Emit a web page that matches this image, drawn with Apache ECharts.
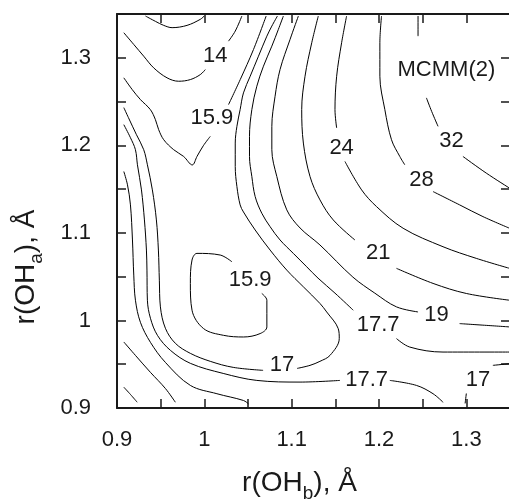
<!DOCTYPE html>
<html><head><meta charset="utf-8">
<script src="https://cdn.jsdelivr.net/npm/echarts@6/dist/echarts.min.js"></script>
<style>html,body{margin:0;padding:0;background:#fff}#c{width:509px;height:499px}</style>
</head><body><div id="c"></div>
<script>
const xTickLabels = [0.9, 1, 1.1, 1.2, 1.3];
const yTickLabels = [0.9, 1, 1.1, 1.2, 1.3];

// contour segments (data units), one array of segments per level
const c12 = [
  [[0.9326,1.3477],[0.944,1.3416],[0.9535,1.337],[0.9631,1.3344],[0.9802,1.337],[0.9954,1.3439],[0.9999,1.3477]]
];
const c14 = [
  [[0.9078,1.3286],[0.9192,1.3152],[0.9306,1.3018],[0.942,1.2885],[0.9573,1.2771],[0.9706,1.2732],[0.984,1.2751],[0.9954,1.2808],[1.0011,1.2865]],
  [[1.0277,1.319],[1.0354,1.3305],[1.043,1.3477]]
];
const c15_9 = [
  [[0.9078,1.2771],[0.9174,1.2637],[0.9268,1.2523],[0.9382,1.2408],[0.944,1.2293],[0.9477,1.2179],[0.9535,1.2064],[0.9649,1.195],[0.9763,1.1873],[0.9862,1.1776],[0.9916,1.1873],[0.9988,1.1995],[1.0068,1.2102]],
  [[1.0277,1.2465],[1.0411,1.2751],[1.0563,1.3095],[1.0708,1.3477]],
  [[1.0316,1.067],[1.0182,1.0747],[0.9916,1.0766],[0.9859,1.069],[0.984,1.0423],[0.9859,1.0117],[0.9991,0.9907],[1.022,0.983],[1.0448,0.9811],[1.0639,0.985],[1.0716,0.9926],[1.0716,1.0231],[1.0658,1.0308]]
];
const c17 = [
  [[1.0837,1.3477],[1.0773,1.3362],[1.0716,1.3247],[1.062,1.3018],[1.0525,1.2789],[1.0448,1.2599],[1.041,1.2408],[1.0373,1.2217],[1.0354,1.2026],[1.0354,1.1758],[1.0373,1.1529],[1.041,1.132],[1.0448,1.1239],[1.0582,1.1033],[1.0753,1.0804],[1.0944,1.0575],[1.1134,1.0384],[1.1324,1.0194],[1.1401,1.0097],[1.1533,0.9907],[1.1545,0.9793],[1.1439,0.9601],[1.1324,0.9533],[1.121,0.9487],[1.1062,0.9452]],
  [[1.0673,0.943],[1.0331,0.9464],[1.0068,0.9533],[0.984,0.9624],[0.9668,0.9739],[0.9554,0.9911],[0.9497,1.0155],[0.9485,1.046],[0.9474,1.0804],[0.9451,1.1148],[0.9405,1.1491],[0.9348,1.1778],[0.9306,1.195],[0.9223,1.2121],[0.9131,1.2316],[0.9078,1.2431]],
  [[1.2986,0.9052],[1.3,0.9166]],
  [[1.3304,0.9487],[1.3495,0.9506]]
];
const c17_7 = [
  [[1.0905,1.3477],[1.0848,1.3325],[1.0773,1.3133],[1.0677,1.2904],[1.0601,1.2675],[1.0544,1.2408],[1.0517,1.2102],[1.0517,1.1873],[1.0544,1.1644],[1.0582,1.1415],[1.0658,1.1224],[1.0753,1.1071],[1.0867,1.0919],[1.1019,1.0766],[1.1172,1.0613],[1.1302,1.0483],[1.1496,1.0312],[1.1705,1.0117]],
  [[1.22,0.9793],[1.2352,0.9696],[1.2733,0.9639],[1.3495,0.9639]],
  [[0.9078,1.2236],[0.9154,1.2087],[0.9211,1.195],[0.9234,1.1778],[0.928,1.1491],[0.9314,1.1148],[0.9337,1.0804],[0.9343,1.0575],[0.9348,1.0231],[0.9383,1.0025],[0.9463,0.983],[0.9611,0.9659],[0.984,0.951],[1.0216,0.9395],[1.0601,0.9315],[1.1096,0.9296],[1.1553,0.9315]],
  [[1.2124,0.9315],[1.2429,0.9258],[1.2619,0.9163],[1.2733,0.9066]]
];
const c19 = [
  [[1.1077,1.3477],[1.0982,1.3211],[1.0867,1.2866],[1.081,1.256],[1.0773,1.2217],[1.0773,1.195],[1.083,1.1644],[1.0944,1.1263],[1.1096,1.1056],[1.1324,1.0862],[1.1701,1.0495],[1.1952,1.0312],[1.22,1.0155],[1.2447,1.0097]],
  [[1.2923,0.9964],[1.3209,0.9945],[1.3495,0.9926]],
  [[0.9078,1.1701],[0.912,1.1549],[0.9154,1.132],[0.9177,1.0919],[0.9192,1.0518],[0.9211,1.0231],[0.9268,0.9979],[0.9383,0.975],[0.9554,0.9521],[0.984,0.9258],[1.0144,0.9163],[1.0448,0.9086],[1.0505,0.9048]]
];
const c21 = [
  [[1.1305,1.3477],[1.123,1.3172],[1.1153,1.2789],[1.1115,1.2408],[1.1134,1.2026],[1.121,1.1644],[1.1324,1.1377],[1.1476,1.1148],[1.1724,1.0919]],
  [[1.22,1.0595],[1.2619,1.0423],[1.3,1.0308],[1.3495,1.0231]],
  [[0.9078,0.9754],[0.9211,0.9601],[0.9383,0.9407],[0.9554,0.9223],[0.9668,0.9066]]
];
const c24 = [
  [[1.1629,1.3477],[1.1572,1.3172],[1.1515,1.2789],[1.1496,1.2408],[1.1515,1.2198]],
  [[1.161,1.1816],[1.1801,1.1491],[1.1972,1.13],[1.2276,1.1053],[1.2733,1.0842],[1.3114,1.0709],[1.3495,1.0595]],
  [[0.9078,0.9238],[0.9154,0.9155],[0.9231,0.9066]]
];
const c28 = [
  [[1.2029,1.3477],[1.201,1.3172],[1.201,1.2789],[1.2067,1.2408],[1.2143,1.2064],[1.2238,1.1873],[1.2295,1.1778]],
  [[1.2619,1.1472],[1.2923,1.132],[1.319,1.1186],[1.3495,1.1053]]
];
const c32 = [
  [[1.2447,1.3477],[1.2447,1.3247]],
  [[1.2543,1.2542],[1.2604,1.2385],[1.2676,1.2217]],
  [[1.2961,1.1873],[1.3228,1.1683],[1.3495,1.1511]]
];

const labelTexts = ['14','15.9','15.9','17','17','17.7','17.7','19','21','24','28','32','MCMM(2)'];
const labelX = [1.0125,1.0087,1.0525,1.089,1.3133,1.199,1.1858,1.2657,1.199,1.1572,1.2486,1.2829,1.2772];
const labelY = [1.3018,1.2313,1.046,0.9487,0.9315,0.9945,0.9315,1.006,1.0766,1.1969,1.1606,1.2045,1.2866];

const FONT = 'Liberation Sans, Arial, sans-serif';
const INK = '#1a1a1a';

function tickFmt(list) {
  return function (v) {
    const r = Math.round(v * 100) / 100;
    return list.some(t => Math.abs(t - r) < 1e-6) ? String(r) : '';
  };
}

const series = [];
[c12, c14, c15_9, c17, c17_7, c19, c21, c24, c28, c32].forEach(level => {
  level.forEach(seg => {
    series.push({
      type: 'line', data: seg, showSymbol: false, symbol: 'none', smooth: 0.35,
      lineStyle: { color: '#000', width: 1 }, silent: true, z: 2
    });
  });
});
series.push({
  type: 'scatter', symbol: 'circle', symbolSize: 2, silent: true, z: 5,
  itemStyle: { color: 'rgba(255,255,255,0)' },
  data: labelTexts.map((t, i) => ({ name: t, value: [labelX[i], labelY[i]] })),
  label: { show: true, position: 'inside', formatter: '{b}', fontSize: 22, fontFamily: FONT, color: INK, opacity: 1 },
  labelLayout: { hideOverlap: false }
});

const axisCommon = {
  type: 'value', interval: 0.05,
  axisLine: { show: true, onZero: false, lineStyle: { color: INK, width: 2 } },
  axisTick: { show: true, inside: true, length: 9, lineStyle: { color: INK, width: 1.5 } },
  splitLine: { show: false }
};

const option = {
  animation: false,
  backgroundColor: '#fff',
  grid: { left: 117, right: -1, top: 14, bottom: 91, containLabel: false, outerBoundsMode: 'none' },
  xAxis: [
    Object.assign({}, axisCommon, {
      position: 'bottom', min: 0.9, max: 1.35,
      axisLabel: { formatter: tickFmt(xTickLabels), fontSize: 22, margin: 21, color: INK, fontFamily: FONT },
      name: '{a|r(OH}{s|b}{a|), Å}', nameLocation: 'middle', nameGap: 55,
      nameTextStyle: {
        padding: [0, 28, 0, 0],
        rich: {
          a: { fontSize: 28, fontFamily: FONT, color: INK, lineHeight: 40, verticalAlign: 'middle' },
          s: { fontSize: 19, fontFamily: FONT, color: INK, lineHeight: 18, verticalAlign: 'bottom' }
        }
      }
    }),
    Object.assign({}, axisCommon, {
      position: 'top', min: 0.9, max: 1.35, axisLabel: { show: false }
    })
  ],
  yAxis: [
    Object.assign({}, axisCommon, {
      position: 'left', min: 0.9, max: 1.35,
      axisLabel: { formatter: tickFmt(yTickLabels), fontSize: 22, margin: 26, color: INK, fontFamily: FONT },
      name: '{a|r(OH}{s|a}{a|), Å}', nameLocation: 'middle', nameGap: 71, nameRotate: 90,
      nameTextStyle: {
        padding: [0, 112, 0, 0],
        rich: {
          a: { fontSize: 28, fontFamily: FONT, color: INK, lineHeight: 40, verticalAlign: 'middle' },
          s: { fontSize: 19, fontFamily: FONT, color: INK, lineHeight: 18, verticalAlign: 'bottom' }
        }
      }
    }),
    Object.assign({}, axisCommon, {
      position: 'right', min: 0.9, max: 1.35, axisLabel: { show: false }
    })
  ],
  series: series
};

const chart = echarts.init(document.getElementById('c'), null, { renderer: 'canvas' });
chart.setOption(option);
</script>
</body></html>
